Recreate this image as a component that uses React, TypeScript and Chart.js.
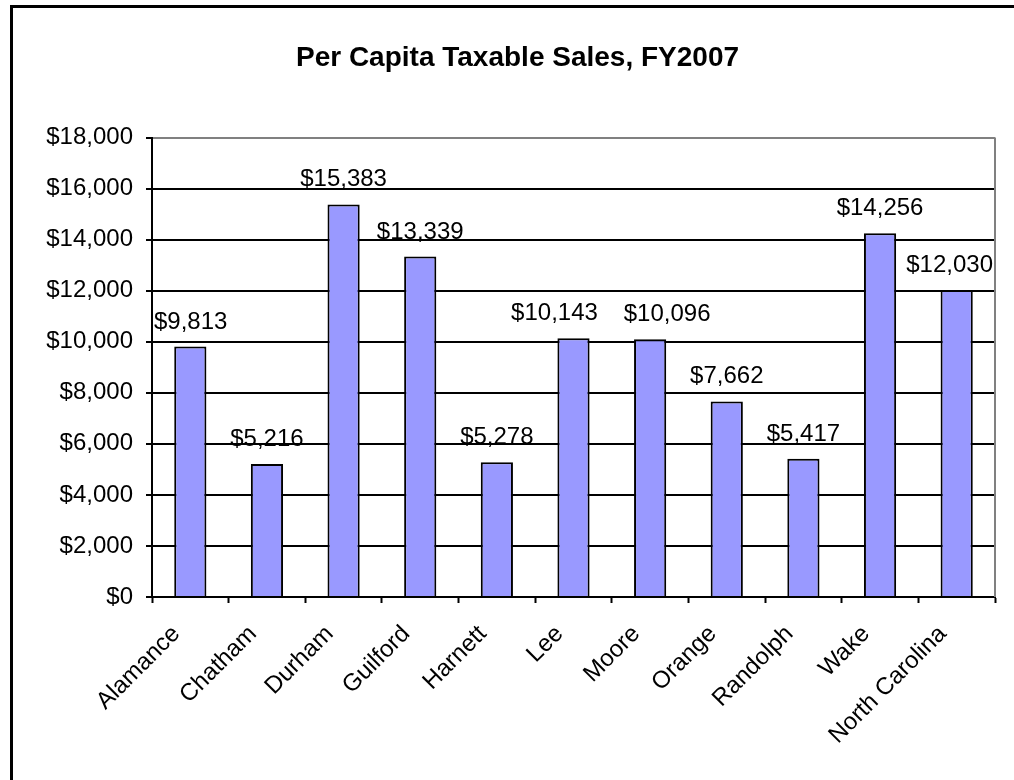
import React, { useEffect, useRef } from "react";
import { Chart, registerables } from "chart.js";

Chart.register(...registerables);

const categories: string[] = [
  "Alamance",
  "Chatham",
  "Durham",
  "Guilford",
  "Harnett",
  "Lee",
  "Moore",
  "Orange",
  "Randolph",
  "Wake",
  "North Carolina",
];
const perCapitaSales: number[] = [9813, 5216, 15383, 13339, 5278, 10143, 10096, 7662, 5417, 14256, 12030];
const yTicks: number[] = [0, 2000, 4000, 6000, 8000, 10000, 12000, 14000, 16000, 18000];
const chartTitle = "Per Capita Taxable Sales, FY2007";

const FONT = "'Liberation Sans', Arial, Helvetica, sans-serif";
const fmt = (v: number) => "$" + v.toLocaleString("en-US");

// labels that were dragged apart by hand in the original so they do not collide
const labelNudge: Record<string, number> = { Lee: -19, Moore: 17 };

const valueLabels = {
  id: "valueLabels",
  afterDatasetsDraw(chart: any) {
    const ctx = chart.ctx;
    const area = chart.chartArea;
    const meta = chart.getDatasetMeta(0);
    ctx.save();
    ctx.font = `24px ${FONT}`;
    ctx.fillStyle = "#000";
    ctx.textAlign = "center";
    ctx.textBaseline = "alphabetic";
    meta.data.forEach((bar: any, i: number) => {
      const text = fmt(perCapitaSales[i]);
      const w = ctx.measureText(text).width;
      let x = bar.x + (labelNudge[categories[i]] || 0);
      // keep the label inside the plot area, as the original does
      x = Math.min(x, area.right - 2 - w / 2);
      x = Math.max(x, area.left + 2 + w / 2);
      ctx.fillText(text, x, bar.y - 18);
    });
    ctx.restore();
  },
};

const plotBorder = {
  id: "plotBorder",
  afterDraw(chart: any) {
    const { ctx, chartArea } = chart;
    ctx.save();
    ctx.strokeStyle = "#808080";
    ctx.lineWidth = 2;
    ctx.beginPath();
    ctx.moveTo(chartArea.right, chartArea.top);
    ctx.lineTo(chartArea.right, chartArea.bottom);
    ctx.stroke();
    ctx.restore();
  },
};

export default function App() {
  const canvasRef = useRef<HTMLCanvasElement | null>(null);

  useEffect(() => {
    if (!canvasRef.current) return;
    const chart = new Chart(canvasRef.current, {
      type: "bar",
      data: {
        labels: categories,
        datasets: [
          {
            label: "Per Capita Taxable Sales",
            data: perCapitaSales,
            backgroundColor: "#9999FF",
            borderColor: "#000000",
            borderWidth: 2,
            barPercentage: 0.42,
            categoryPercentage: 1,
          },
        ],
      },
      plugins: [valueLabels, plotBorder],
      options: {
        responsive: false,
        animation: false,
        devicePixelRatio: 1,
        layout: { padding: { left: 40, right: 19, top: 0, bottom: 0 } },
        plugins: {
          legend: { display: false },
          tooltip: { enabled: false },
          title: {
            display: true,
            text: chartTitle,
            color: "#000",
            font: { family: FONT, size: 28, weight: "bold", lineHeight: 1.2 },
            padding: { top: 41, bottom: 63 },
          },
        },
        scales: {
          x: {
            grid: {
              offset: true,
              drawOnChartArea: false,
              drawTicks: true,
              tickLength: 6,
              tickColor: "#000",
              tickWidth: 2,
            },
            border: { color: "#000", width: 2 },
            ticks: {
              color: "#000",
              font: { family: FONT, size: 24 },
              maxRotation: 45,
              minRotation: 45,
              autoSkip: false,
              padding: 17,
              labelOffset: -14,
            },
            afterFit(scale: any) {
              scale.height = 183;
            },
          },
          y: {
            min: 0,
            max: 18000,
            afterBuildTicks(scale: any) {
              scale.ticks = yTicks.map((v) => ({ value: v }));
            },
            grid: {
              color: (c: any) => (c.tick && c.tick.value === 18000 ? "#808080" : "#000"),
              lineWidth: 2,
              tickLength: 6,
              tickColor: "#000",
              tickWidth: 2,
            },
            border: { color: "#000", width: 2 },
            ticks: {
              color: "#000",
              font: { family: FONT, size: 24 },
              padding: 13,
              callback: (v: any) => fmt(Number(v)),
            },
            afterFit(scale: any) {
              scale.width = 112;
            },
          },
        },
      },
    });
    return () => chart.destroy();
  }, []);

  return (
    <div
      style={{
        position: "fixed",
        left: 0,
        top: 0,
        width: 1014,
        height: 780,
        background: "#fff",
        overflow: "hidden",
      }}
    >
      <div
        style={{
          position: "absolute",
          left: 10,
          top: 5,
          width: 1200,
          height: 1000,
          border: "3px solid #000",
          boxSizing: "border-box",
        }}
      />
      <canvas
        ref={canvasRef}
        width={1014}
        height={780}
        style={{ position: "absolute", left: 0, top: 0, width: 1014, height: 780 }}
      />
    </div>
  );
}
